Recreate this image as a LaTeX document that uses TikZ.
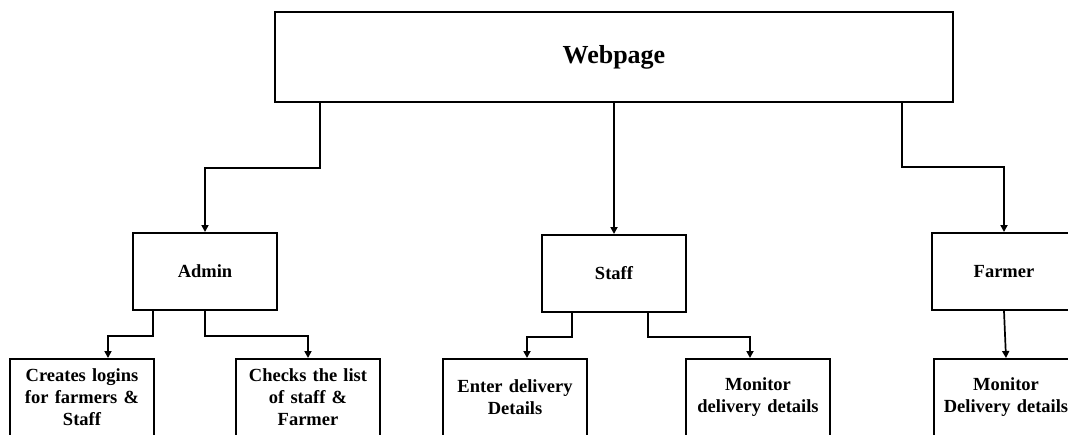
\documentclass[tikz,border=0pt]{standalone}
\usepackage{fontspec}
\setmainfont{Liberation Serif}
\usetikzlibrary{arrows.meta, positioning}

\begin{document}
\begin{tikzpicture}[
    x=1pt, y=-1pt,
    box/.style={draw, rectangle, line width=2pt, minimum width=144pt, minimum height=77pt, inner sep=0pt, text width=138pt, align=center, font=\bfseries\fontsize{18.5}{22}\selectfont},
    mainbox/.style={box, minimum width=678pt, minimum height=90pt, text width=600pt, font=\bfseries\fontsize{26}{30}\selectfont},
    arrow/.style={-{Triangle[length=7pt, width=7pt]}, line width=1.7pt}
]
\path[use as bounding box, clip] (0,0) rectangle (1068,434);

\node[mainbox] (web) at (614,57) {Webpage};

\node[box] (admin) at (205,271.5) {Admin};
\node[box, below=131pt of web] (staff) {Staff};
\node[box] (farmer) at (1004,271.5) {Farmer};

\node[box] (logins) at (82,397.5) {Creates logins\\for farmers \&\\Staff};
\node[box] (lists) at (308,397.5) {Checks the list\\of staff \&\\Farmer};
\node[box] (enter) at (515,397.5) {Enter delivery\\Details};
\node[box] (monitor) at (758,397.5) {Monitor\\delivery details};
\node[box, below=47pt of farmer, xshift=2pt] (fmonitor) {Monitor\\Delivery details};

\draw[arrow] ([xshift=46pt]web.south west) -- ++(0,65) -| (admin.north);
\draw[arrow] (web.south) -- (staff.north);
\draw[arrow] ([xshift=-52pt]web.south east) -- ++(0,64) -| (farmer.north);

\draw[arrow] ([xshift=21pt]admin.south west) -- ++(0,25) -| ([xshift=26pt]logins.north);
\draw[arrow] (admin.south) -- ++(0,25) -| (lists.north);
\draw[arrow] ([xshift=31pt]staff.south west) -- ++(0,24) -| ([xshift=12pt]enter.north);
\draw[arrow] ([xshift=34pt]staff.south) -- ++(0,24) -| ([xshift=-8pt]monitor.north);
\draw[arrow] (farmer.south) -- (fmonitor.north);

\end{tikzpicture}
\end{document}
